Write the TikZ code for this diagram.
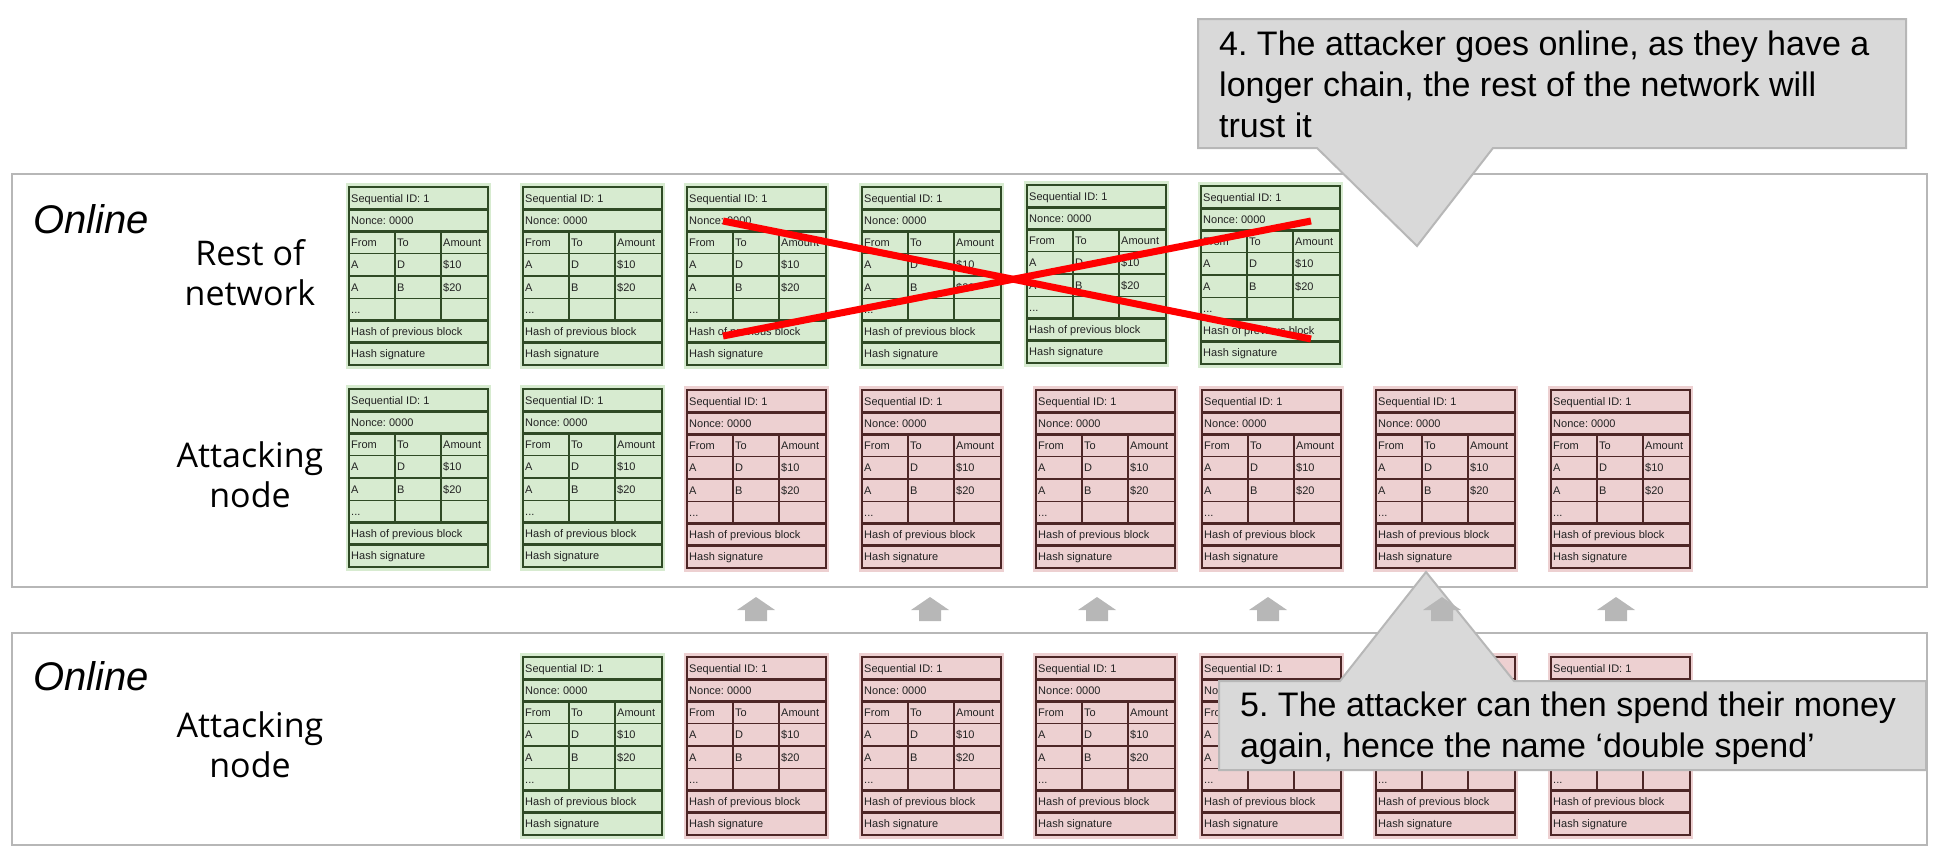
\documentclass[tikz,border=0pt]{standalone}
\usepackage{fontspec}
\setmainfont{Liberation Sans}
\newfontfamily\labelfont{Open Sans}
\frenchspacing
\definecolor{gfill}{HTML}{D7EBD0}
\definecolor{gline}{HTML}{2F4A25}
\definecolor{pfill}{HTML}{EDD0D1}
\definecolor{pline}{HTML}{4D2626}
\definecolor{framegray}{HTML}{B7B7B7}
\definecolor{callfill}{HTML}{D9D9D9}
\definecolor{blocktext}{HTML}{222222}
\newcommand\blkfont{\fontsize{11}{13}\selectfont}
\tikzset{
  blocktxt/.style={anchor=base west, inner sep=0pt, font=\blkfont, text=blocktext},
  framebox/.style={draw=framegray, line width=2.2pt, fill=white, anchor=north west, inner sep=0pt, outer sep=0pt},
  onlinelbl/.style={anchor=base west, inner sep=0pt, font=\fontsize{40}{46}\selectfont\itshape},
  rowlbl/.style={anchor=base, inner sep=0pt, align=center, font=\labelfont\fontsize{34}{40}\selectfont},
  calloutshape/.style={fill=callfill, draw=framegray, line width=2pt, line join=miter},
  callouttxt/.style={anchor=base west, inner sep=0pt, align=left, font=\fontsize{34}{41}\selectfont},
  redx/.style={draw=red, line width=7pt},
  pics/chainblock/.style n args={2}{code={
    \node[fill=#1, minimum width=145pt, minimum height=186pt, anchor=north west, inner sep=0pt, outer sep=0pt] (-bg) at (0,0) {};
    \fill[#1] (3,4) rectangle (142,182);
    \draw[#2, line width=1.3pt] (3,70.75) -- (142,70.75) (3,93) -- (142,93) (3,115.25) -- (142,115.25)
      (49,48.5) -- (49,137.5) (95,48.5) -- (95,137.5);
    \draw[#2, line width=2.6pt] (3,4) rectangle (142,182) (3,26.25) -- (142,26.25) (3,48.5) -- (142,48.5)
      (3,137.5) -- (142,137.5) (3,159.75) -- (142,159.75);
    \node[blocktxt] (-seq) at (5,19.1) {Sequential ID: 1};
    \node[blocktxt] (-nonce) at (5,41.4) {Nonce: 0000};
    \node[blocktxt] (-from) at (5,63.6) {From};
    \node[blocktxt] (-to) at (51,63.6) {To};
    \node[blocktxt] (-amount) at (97,63.6) {Amount};
    \node[blocktxt] (-a1) at (5,85.9) {A};
    \node[blocktxt] (-d1) at (51,85.9) {D};
    \node[blocktxt] (-v1) at (97,85.9) {\$10};
    \node[blocktxt] (-a2) at (5,108.1) {A};
    \node[blocktxt] (-b2) at (51,108.1) {B};
    \node[blocktxt] (-v2) at (97,108.1) {\$20};
    \node[blocktxt] (-dots) at (5,130.4) {...};
    \node[blocktxt] (-prev) at (5,152.6) {Hash of previous block};
    \node[blocktxt] (-sig) at (5,174.9) {Hash signature};
  }},
  pics/uparrow/.style={code={
    \fill[framegray] (0,0) -- (19,13) -- (11,13) -- (11,24) -- (-11,24) -- (-11,13) -- (-19,13) -- cycle;
  }},
}
\begin{document}
\begin{tikzpicture}[x=1pt, y=-1pt]
\useasboundingbox (0,0) rectangle (1940,862);
% frames
\node[framebox, minimum width=1915pt, minimum height=413pt] (frame1) at (12,174) {};
\node[framebox, minimum width=1915pt, minimum height=212pt] (frame2) at (12,633) {};
% labels
\node[onlinelbl] (online1) at (33,233) {Online};
\node[onlinelbl] (online2) at (33,690) {Online};
\node[rowlbl] (rest) at (250,305) {Rest of\\network};
\node[rowlbl] (att1) at (250,507) {Attacking\\node};
\node[rowlbl] (att2) at (250,777) {Attacking\\node};
% row 1: rest of network
\pic (r1c1) at (346,183) {chainblock={gfill}{gline}};
\pic (r1c2) at (520,183) {chainblock={gfill}{gline}};
\pic (r1c3) at (684,183) {chainblock={gfill}{gline}};
\pic (r1c4) at (859,183) {chainblock={gfill}{gline}};
\pic (r1c5) at (1024,181) {chainblock={gfill}{gline}};
\pic (r1c6) at (1198,182) {chainblock={gfill}{gline}};
% row 2: attacking node (online)
\pic (r2c1) at (346,385) {chainblock={gfill}{gline}};
\pic (r2c2) at (520,385) {chainblock={gfill}{gline}};
\pic (r2c3) at (684,386) {chainblock={pfill}{pline}};
\pic (r2c4) at (859,386) {chainblock={pfill}{pline}};
\pic (r2c5) at (1033,386) {chainblock={pfill}{pline}};
\pic (r2c6) at (1199,386) {chainblock={pfill}{pline}};
\pic (r2c7) at (1373,386) {chainblock={pfill}{pline}};
\pic (r2c8) at (1548,386) {chainblock={pfill}{pline}};
% row 3: attacking node (before)
\pic (r3c2) at (520,653) {chainblock={gfill}{gline}};
\pic (r3c3) at (684,653) {chainblock={pfill}{pline}};
\pic (r3c4) at (859,653) {chainblock={pfill}{pline}};
\pic (r3c5) at (1033,653) {chainblock={pfill}{pline}};
\pic (r3c6) at (1199,653) {chainblock={pfill}{pline}};
\pic (r3c7) at (1373,653) {chainblock={pfill}{pline}};
\pic (r3c8) at (1548,653) {chainblock={pfill}{pline}};
% red cross
\coordinate (xa1) at (723,221);
\coordinate (xa2) at (1311,339);
\coordinate (xb1) at (723,336);
\coordinate (xb2) at (1311,221);
\draw[redx] (xa1) -- (xa2);
\draw[redx] (xb1) -- (xb2);
% callout 4
\draw[calloutshape] (1198,19) -- (1906,19) -- (1906,148) -- (1493,148) -- (1417,246) -- (1317,148) -- (1198,148) -- cycle;
\node[callouttxt] (call4) at (1219,137) {4. The attacker goes online, as they have a\\longer chain, the rest of the network will\\trust it};
% callout 5
\draw[calloutshape] (1219,681) -- (1340,681) -- (1426,572) -- (1514,681) -- (1926,681) -- (1926,770) -- (1219,770) -- cycle;
\node[callouttxt] (call5) at (1240,757) {5. The attacker can then spend their money\\again, hence the name `double spend'};
% arrows
\pic at (756,597) {uparrow};
\pic at (930,597) {uparrow};
\pic at (1097,597) {uparrow};
\pic at (1268,597) {uparrow};
\pic at (1442,597) {uparrow};
\pic at (1616,597) {uparrow};
\end{tikzpicture}
\end{document}
